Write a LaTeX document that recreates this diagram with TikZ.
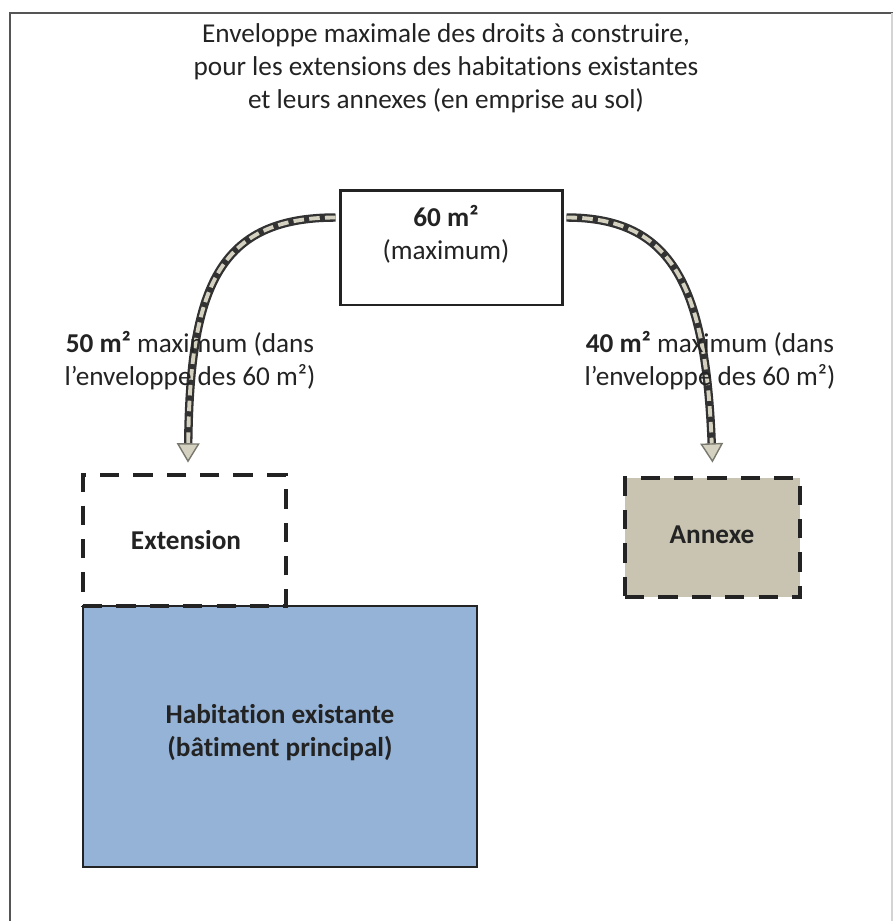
\documentclass[tikz,border=0pt]{standalone}
\usepackage{fontspec}
\setmainfont[RawFeature={-liga;-clig;-calt;-dlig}]{Carlito}
\definecolor{FrameGray}{RGB}{85,85,85}
\definecolor{BoxDark}{RGB}{35,35,35}
\definecolor{HabBlue}{RGB}{149,179,215}
\definecolor{AnnexBeige}{RGB}{201,196,177}
\definecolor{ArrowDark}{RGB}{50,50,50}
\definecolor{ArrowBeige}{RGB}{212,209,192}
\definecolor{ArrowGray}{RGB}{120,120,110}
\usepackage{tikz}
\usetikzlibrary{positioning, arrows.meta, calc}

\begin{document}
\begin{tikzpicture}[x=0.02cm, y=-0.02cm,
    every node/.style={font=\fontsize{15.5}{18.8}\selectfont, text=BoxDark},
    mainbox/.style={draw=BoxDark, line width=1.7pt, fill=white, minimum width=4.46cm, minimum height=2.3cm, inner sep=0pt},
    dashbox/.style={draw=BoxDark, line width=2.8pt, dash pattern=on 11pt off 8pt, inner sep=0pt},
    flow/.style={line width=4.8pt, draw=ArrowDark, -{Triangle[width=13pt, length=11pt, fill=ArrowBeige, color=ArrowGray, line width=0.8pt]}},
    flowcore/.style={line width=2.2pt, draw=ArrowBeige, dash pattern=on 6pt off 3pt, shorten >=11pt}]
  \useasboundingbox (0,0) rectangle (893,921);
  % frame
  \draw[FrameGray, line width=1.2pt] (10,925) -- (10,13) -- (893,13);
  \draw[FrameGray!25, line width=0.8pt] (892,13) -- (892,921);

  % title and total envelope
  \node (title) at (446,68) [align=center] {Enveloppe maximale des droits à construire,\\pour les extensions des habitations existantes\\et leurs annexes (en emprise au sol)};
  \node[mainbox] (maxbox) at (451.5,247.5) {};
  \node[align=center] (maxtxt) at (446,234) {\textbf{60 m²}\\(maximum)};

  % buildings
  \node[draw=BoxDark, line width=1.1pt, fill=HabBlue, minimum width=7.88cm, minimum height=5.22cm] (habbox) at (280,736.5) {};
  \node[align=center, font=\fontsize{15.5}{18.8}\selectfont\bfseries] (habtxt) at (280,733) {Habitation existante\\(bâtiment principal)};
  \node[dashbox, minimum width=4.06cm, minimum height=2.62cm] (extbox) at (184.5,540.5) {};
  \node[font=\fontsize{15.5}{18.8}\selectfont\bfseries] (exttxt) at (186,540) {Extension};
  \node[dashbox, fill=AnnexBeige, minimum width=3.5cm, minimum height=2.38cm] (annexbox) at (712.5,537.5) {};
  \node[font=\fontsize{15.5}{18.8}\selectfont\bfseries] (annextxt) at (712,535) {Annexe};

  % arrows
  \coordinate (lstart) at ($(maxbox.west)+(-3,-30)$);
  \coordinate (rstart) at ($(maxbox.east)+(2,-30)$);
  \coordinate (ltip) at ($(extbox.north)+(3.5,-10)$);
  \coordinate (rtip) at ($(annexbox.north)+(0,-13)$);
  \draw[flow] (lstart) .. controls +(-117,0) and +(2,-175) .. (ltip);
  \draw[flowcore] (lstart) .. controls +(-117,0) and +(2,-175) .. (ltip);
  \draw[flow] (rstart) .. controls +(107,0) and +(-7,-175) .. (rtip);
  \draw[flowcore] (rstart) .. controls +(107,0) and +(-7,-175) .. (rtip);

  % shares
  \node[align=center] (lshare) at (190,361) {\textbf{50 m²} maximum (dans\\l’enveloppe des 60 m²)};
  \node[align=center] (rshare) at (710,361) {\textbf{40 m²} maximum (dans\\l’enveloppe des 60 m²)};
\end{tikzpicture}
\end{document}
